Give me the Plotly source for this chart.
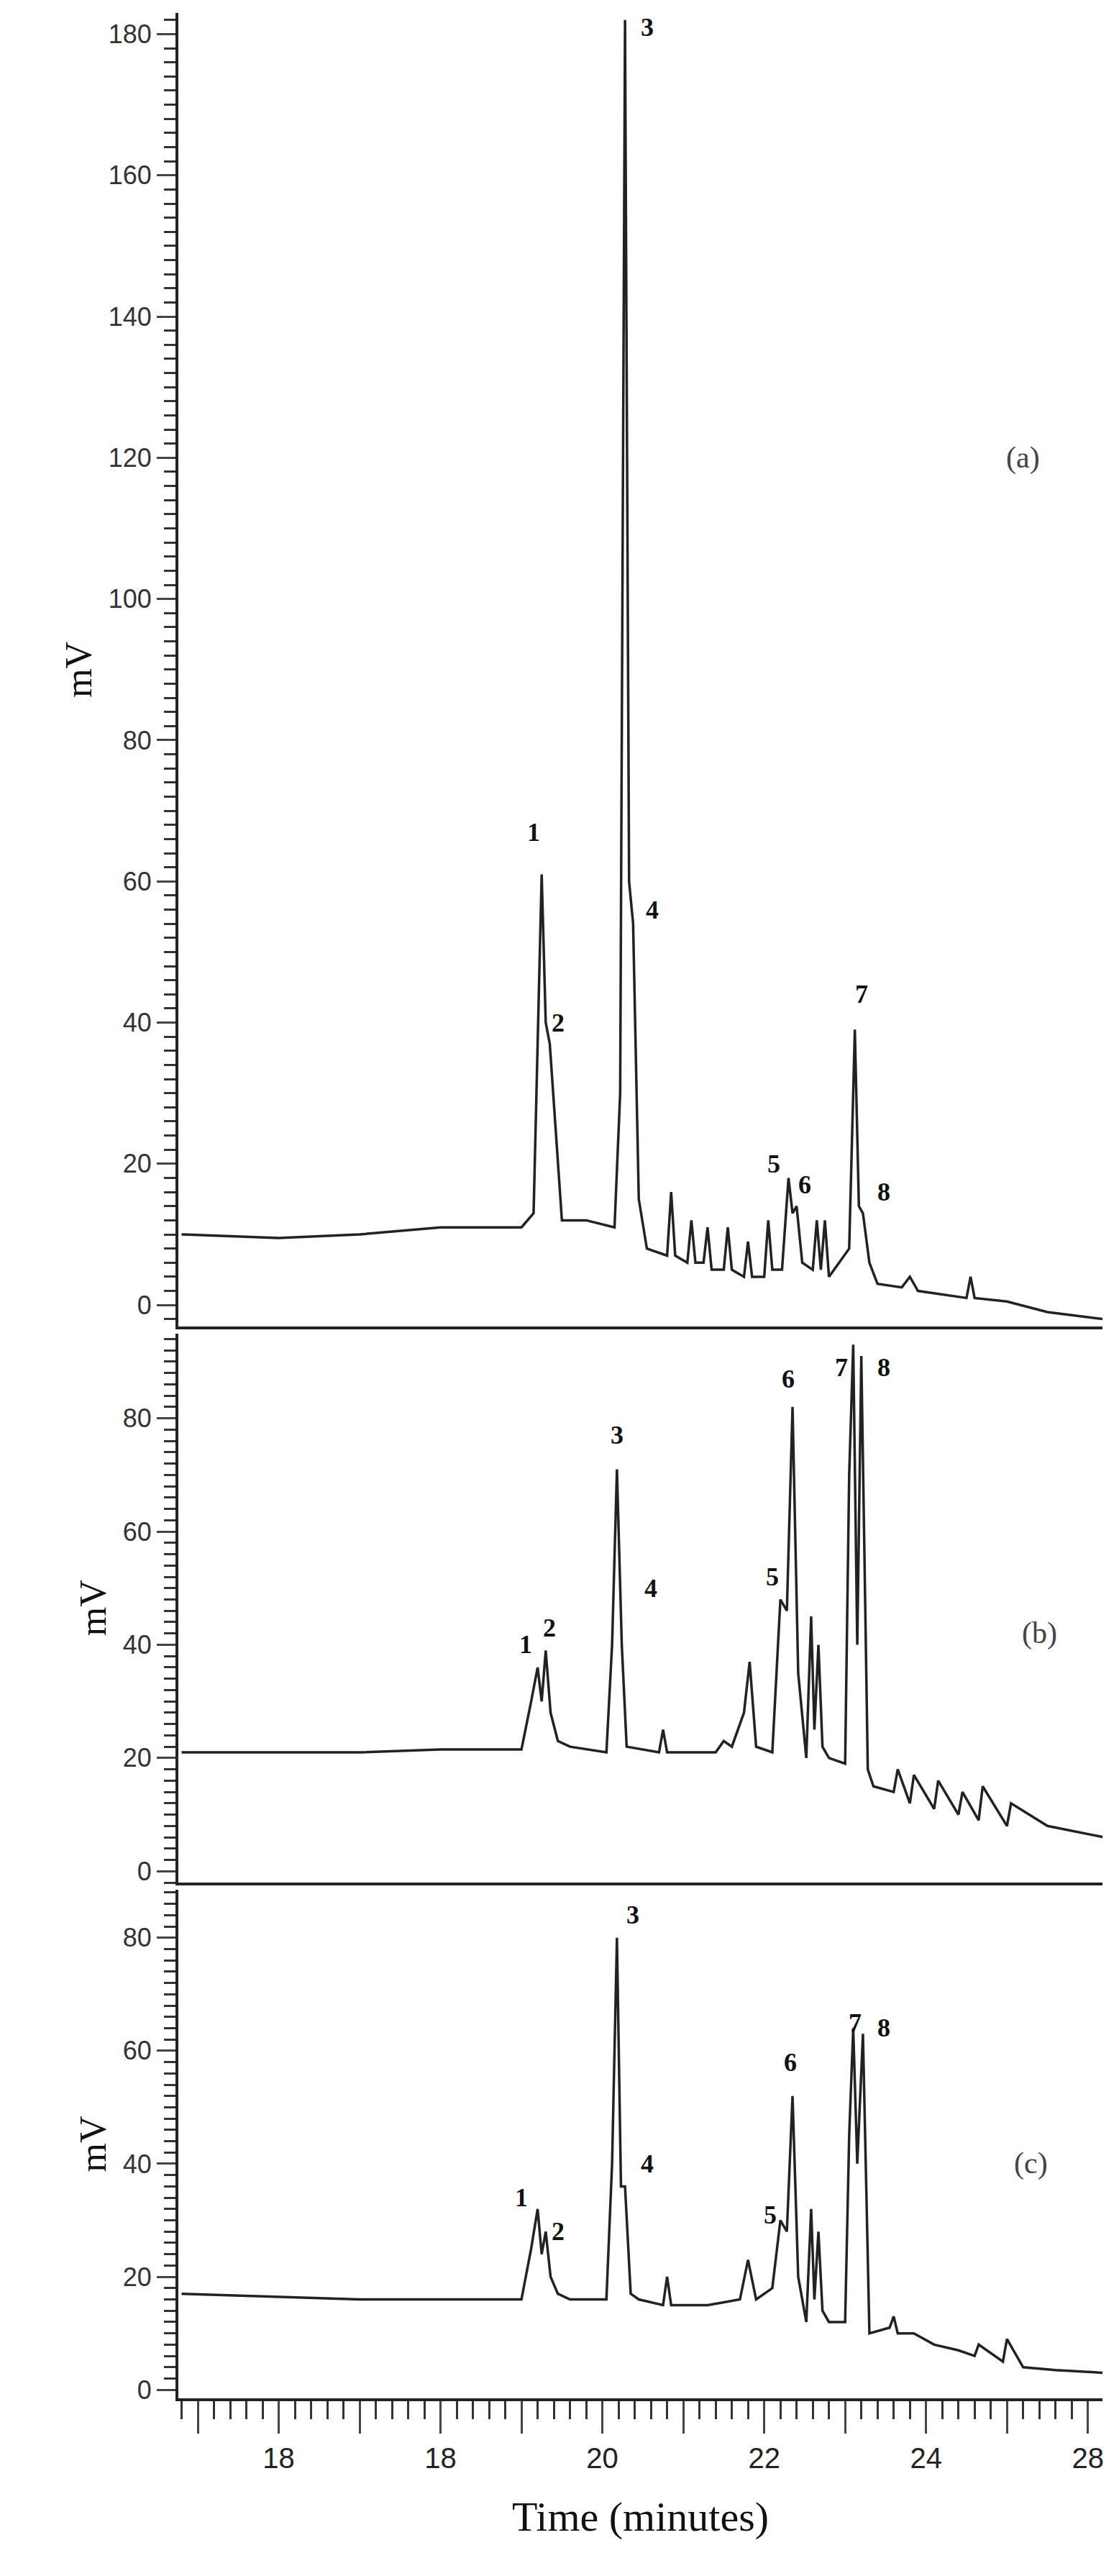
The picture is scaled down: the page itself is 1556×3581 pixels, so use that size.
import plotly.graph_objects as go
from plotly.subplots import make_subplots

# ---- data ----
t_a = [14.8,16.0,17.0,18.0,19.0,19.15,19.25,19.3,19.35,19.42,19.5,19.8,20.15,20.22,20.28,20.33,20.38,20.45,20.55,20.8,20.85,20.9,21.05,21.1,21.15,21.25,21.3,21.35,21.5,21.55,21.6,21.75,21.8,21.85,22.0,22.05,22.1,22.22,22.3,22.35,22.4,22.47,22.6,22.65,22.7,22.75,22.8,23.05,23.12,23.17,23.22,23.3,23.4,23.7,23.8,23.9,24.2,24.5,24.55,24.6,25.0,25.5,26.2]
v_a = [10,9.5,10,11,11,13,61,40,37,25,12,12,11,30,182,60,54,15,8,7,16,7,6,12,6,6,11,5,5,11,5,4,9,4,4,12,5,5,18,13,14,6,5,12,5,12,4,8,39,14,13,6,3,2.5,4,2,1.5,1,4,1,0.5,-1,-2]
t_b = [14.8,16.0,17.0,18.0,19.0,19.12,19.2,19.25,19.3,19.36,19.45,19.6,20.05,20.12,20.18,20.24,20.3,20.7,20.75,20.8,21.4,21.5,21.6,21.75,21.82,21.9,22.1,22.2,22.28,22.35,22.42,22.52,22.58,22.62,22.67,22.72,22.8,23.0,23.05,23.1,23.15,23.2,23.28,23.35,23.6,23.65,23.8,23.85,24.1,24.15,24.4,24.45,24.65,24.7,25.0,25.05,25.5,26.2]
v_b = [21,21,21,21.5,21.5,30,36,30,39,28,23,22,21,40,71,40,22,21,25,21,21,23,22,28,37,22,21,48,46,82,35,20,45,25,40,22,20,19,70,93,40,91,18,15,14,18,12,17,11,16,10,14,9,15,8,12,8,6]
t_c = [14.8,16.0,17.0,18.0,19.0,19.12,19.2,19.25,19.3,19.36,19.45,19.6,20.05,20.12,20.18,20.23,20.28,20.35,20.45,20.75,20.8,20.85,21.2,21.3,21.7,21.8,21.9,22.1,22.2,22.28,22.35,22.42,22.52,22.58,22.62,22.67,22.72,22.8,23.0,23.05,23.1,23.15,23.22,23.3,23.55,23.6,23.65,23.85,24.1,24.4,24.6,24.65,24.95,25.0,25.2,25.6,26.2]
v_c = [17,16.5,16,16,16,25,32,24,28,20,17,16,16,40,80,36,36,17,16,15,20,15,15,15,16,23,16,18,30,28,52,20,12,32,16,28,14,12,12,45,64,40,63,10,11,13,10,10,8,7,6,8,5,9,4,3.5,3]

labels_a = [("1",19.15,67),("2",19.45,40),("3",20.55,181),("4",20.62,56),("5",22.12,20),("6",22.5,17),("7",23.2,44),("8",23.48,16)]
labels_b = [("1",19.05,40),("2",19.35,43),("3",20.18,77),("4",20.6,50),("5",22.1,52),("6",22.3,87),("7",22.95,89),("8",23.48,89)]
labels_c = [("1",19.0,34),("2",19.45,28),("3",20.38,84),("4",20.55,40),("5",22.07,31),("6",22.32,58),("7",23.12,65),("8",23.48,64)]
panel_tags = ["(a)","(b)","(c)"]
xtick_vals = [15,16,17,18,19,20,21,22,23,24,25,26]
xtick_text = ["","18","","18","","20","","22","","24","","28"]

fig = make_subplots(rows=3, cols=1, shared_xaxes=True, vertical_spacing=0.003,
                    row_heights=[0.55, 0.23, 0.213])
series = [(t_a,v_a),(t_b,v_b),(t_c,v_c)]
yr = [[-3,183],[-2,95],[-1.5,88.5]]
for i,(t,v) in enumerate(series):
    fig.add_trace(go.Scatter(x=t,y=v,mode="lines",line=dict(color="#222",width=3.5),showlegend=False),row=i+1,col=1)
ser_font = dict(family="Liberation Serif", size=36, color="#111")
for i,labs in enumerate([labels_a,labels_b,labels_c]):
    for txt,x,y in labs:
        fig.add_annotation(x=x,y=y,text="<b>%s</b>"%txt,showarrow=False,font=ser_font,row=i+1,col=1)
tagpos = [(25.2,120),(25.4,42),(25.3,40)]
for i,tag in enumerate(panel_tags):
    fig.add_annotation(x=tagpos[i][0],y=tagpos[i][1],text=tag,showarrow=False,
                       font=dict(family="Liberation Serif",size=42,color="#444"),row=i+1,col=1)

for i in range(3):
    fig.update_yaxes(range=yr[i],tickvals=[0,20,40,60,80,100,120,140,160,180],ticks="outside",ticklen=26,tickwidth=3,
                     minor=dict(dtick=2,ticks="outside",ticklen=16,tickwidth=3,tickcolor="#333"),
                     showline=True,linewidth=4,linecolor="#222",showgrid=False,zeroline=False,
                     tickfont=dict(family="Liberation Sans",size=36,color="#333"),
                     title=dict(text="mV",font=dict(family="Liberation Serif",size=52,color="#111"),standoff=8),
                     row=i+1,col=1)
    fig.update_xaxes(range=[14.76,26.18],showline=True,linewidth=4,linecolor="#222",showgrid=False,zeroline=False,
                     tickvals=xtick_vals,ticktext=xtick_text,row=i+1,col=1,
                     ticks="outside" if i==2 else "",ticklen=45,tickwidth=3,
                     minor=dict(dtick=0.2,ticks="outside" if i==2 else "",ticklen=25,tickwidth=3,tickcolor="#333"),
                     showticklabels=(i==2),
                     tickfont=dict(family="Liberation Sans",size=40,color="#222"))
fig.update_xaxes(title=dict(text="Time (minutes)",font=dict(family="Liberation Serif",size=58,color="#111"),standoff=40),row=3,col=1)
fig.update_layout(width=1556,height=3581,plot_bgcolor="white",paper_bgcolor="white",
                  margin=dict(l=240,r=31,t=10,b=255))
fig.write_html("out.html")
